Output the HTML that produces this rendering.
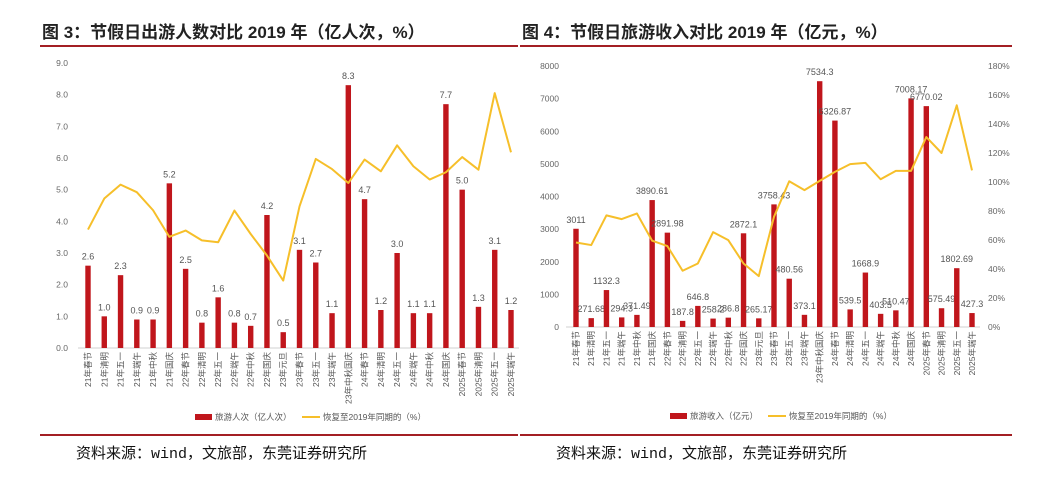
<!DOCTYPE html>
<html><head><meta charset="utf-8"><style>
html,body{margin:0;padding:0;background:#fff;}
body{width:1049px;height:485px;position:relative;overflow:hidden;font-family:"Liberation Sans","Noto Sans CJK SC",sans-serif;}
.t{position:absolute;top:18px;font-size:17px;font-weight:bold;color:#222;white-space:nowrap;}
.s{position:absolute;top:442px;font-size:15px;color:#111;white-space:nowrap;font-family:"Liberation Mono","Noto Sans CJK SC",monospace;}
.r{position:absolute;height:2px;background:#a31f24;}
svg{position:absolute;left:0;top:0;}
</style></head><body>
<div class="t" style="left:42px">图 3：节假日出游人数对比 2019 年（亿人次，%）</div>
<div class="t" style="left:522px">图 4：节假日旅游收入对比 2019 年（亿元，%）</div>
<div class="r" style="left:40px;width:478px;top:45px"></div>
<div class="r" style="left:520px;width:492px;top:45px"></div>
<div class="r" style="left:40px;width:478px;top:434px"></div>
<div class="r" style="left:520px;width:492px;top:434px"></div>
<div class="s" style="left:76px">资料来源：wind，文旅部，东莞证券研究所</div>
<div class="s" style="left:556px">资料来源：wind，文旅部，东莞证券研究所</div>
<svg id="c" width="1049" height="485"></svg>
<script>
const categories=["21年春节","21年清明","21年五一","21年端午","21年中秋","21年国庆","22年春节","22年清明","22年五一","22年端午","22年中秋","22年国庆","23年元旦","23年春节","23年五一","23年端午","23年中秋国庆","24年春节","24年清明","24年五一","24年端午","24年中秋","24年国庆","2025年春节","2025年清明","2025年五一","2025年端午"];
const visitors=[2.6,1.0,2.3,0.9,0.9,5.2,2.5,0.8,1.6,0.8,0.7,4.2,0.5,3.1,2.7,1.1,8.3,4.7,1.2,3.0,1.1,1.1,7.7,5.0,1.3,3.1,1.2];
const visitorsRecovery=[3.74,4.72,5.16,4.92,4.35,3.51,3.71,3.40,3.34,4.34,3.60,2.92,2.13,4.47,5.97,5.65,5.21,5.95,5.58,6.40,5.74,5.32,5.55,6.03,5.63,8.05,6.18];
const leftTicks=["0.0","1.0","2.0","3.0","4.0","5.0","6.0","7.0","8.0","9.0"];
const revenue=[3011,271.68,1132.3,294.3,371.49,3890.61,2891.98,187.8,646.8,258.2,286.8,2872.1,265.17,3758.43,1480.56,373.1,7534.3,6326.87,539.5,1668.9,403.5,510.47,7008.17,6770.02,575.49,1802.69,427.3];
const revenueRecovery=[58.3,56.5,77,74.4,78.3,59.5,55.8,38.8,43.8,65.4,59.9,43.8,35.1,76,100.5,94.4,100.8,107,112.3,113.2,101.9,107.7,107.7,131,120,152.9,108];
const revTicks=[0,1000,2000,3000,4000,5000,6000,7000,8000];
const pctTicks=[0,20,40,60,80,100,120,140,160,180];
const revLabels=["3011","271.68","1132.3","294.3","371.49","3890.61","2891.98","187.8","646.8","258.2","286.8","2872.1","265.17","3758.43","480.56","373.1","7534.3","6326.87","539.5","1668.9","403.5","510.47","7008.17","6770.02","575.49","1802.69","427.3"];
const NS="http://www.w3.org/2000/svg",svg=document.getElementById('c');
function mk(t,a,txt){const e=document.createElementNS(NS,t);for(const k in a)e.setAttribute(k,a[k]);if(txt!==undefined)e.textContent=txt;svg.appendChild(e);return e;}
const RED="#c0161c",YEL="#f6bf2a",GR="#555";
function chart(o){
  const n=categories.length,step=(o.x1-o.x0)/(n-1);
  const xs=i=>o.x0+i*step;
  const y=v=>o.yb-(v-o.min)/(o.max-o.min)*(o.yb-o.yt);
  const y2=v=>o.yb-v/o.max2*(o.yb-o.yt);
  const ax=mk('line',{x1:o.x0-10,x2:o.x1+8,y1:o.yb,y2:o.yb,stroke:'#d0d0d0','stroke-width':1});
  
  o.ticks.forEach(t=>{const e=mk('text',{x:o.lx,y:y(+t)+3,'font-size':8.5,fill:'#666','text-anchor':'end'},t);
    });
  if(o.ticks2)o.ticks2.forEach(t=>{const e=mk('text',{x:o.rx,y:y2(t)+3,'font-size':8.5,fill:'#666'},t+'%');
    });
  o.bars.forEach((v,i)=>{const b=mk('rect',{x:xs(i)-2.7,y:y(v),width:5.4,height:o.yb-y(v),fill:RED});
    
    const l=mk('text',{x:xs(i),y:y(v)-6,'font-size':9,fill:'#555','text-anchor':'middle'},o.labels?o.labels[i]:v.toFixed(1));
    });
  const pts=o.line.map((v,i)=>xs(i)+','+(o.ticks2?y2(v):y(v))).join(' ');
  const pl=mk('polyline',{points:pts,fill:'none',stroke:YEL,'stroke-width':2,'stroke-linejoin':'round'});
  
  categories.forEach((c,i)=>{const e=mk('text',{x:0,y:0,'font-size':8.5,fill:'#555','text-anchor':'end',transform:`translate(${xs(i)+3},${o.yb+4}) rotate(-90)`},c);
    });
  const lr=mk('rect',{x:o.lg1,y:o.ly-3,width:17,height:6,fill:RED});
  
  const lt=mk('text',{x:o.lg1+20,y:o.ly+3,'font-size':8.5,fill:'#555'},o.leg);
  
  const ll=mk('line',{x1:o.lg2,x2:o.lg2+18,y1:o.ly,y2:o.ly,stroke:YEL,'stroke-width':2});
  
  const lt2=mk('text',{x:o.lg2+21,y:o.ly+3,'font-size':8.5,fill:'#555'},'恢复至2019年同期的（%）');
  
}
chart({p:'left',x0:88,x1:511,yb:348,yt:63,min:0,max:9,lx:68,ticks:leftTicks,bars:visitors,line:visitorsRecovery,lg1:195,lg2:302,ly:417,leg:'旅游人次（亿人次）'});
chart({p:'right',x0:576,x1:972,yb:327,yt:66,min:0,max:8000,max2:180,lx:559,rx:988,ticks:revTicks.map(String),ticks2:pctTicks,bars:revenue,labels:revLabels,line:revenueRecovery,lg1:670,lg2:768,ly:416,leg:'旅游收入（亿元）'});
</script>
</body></html>
